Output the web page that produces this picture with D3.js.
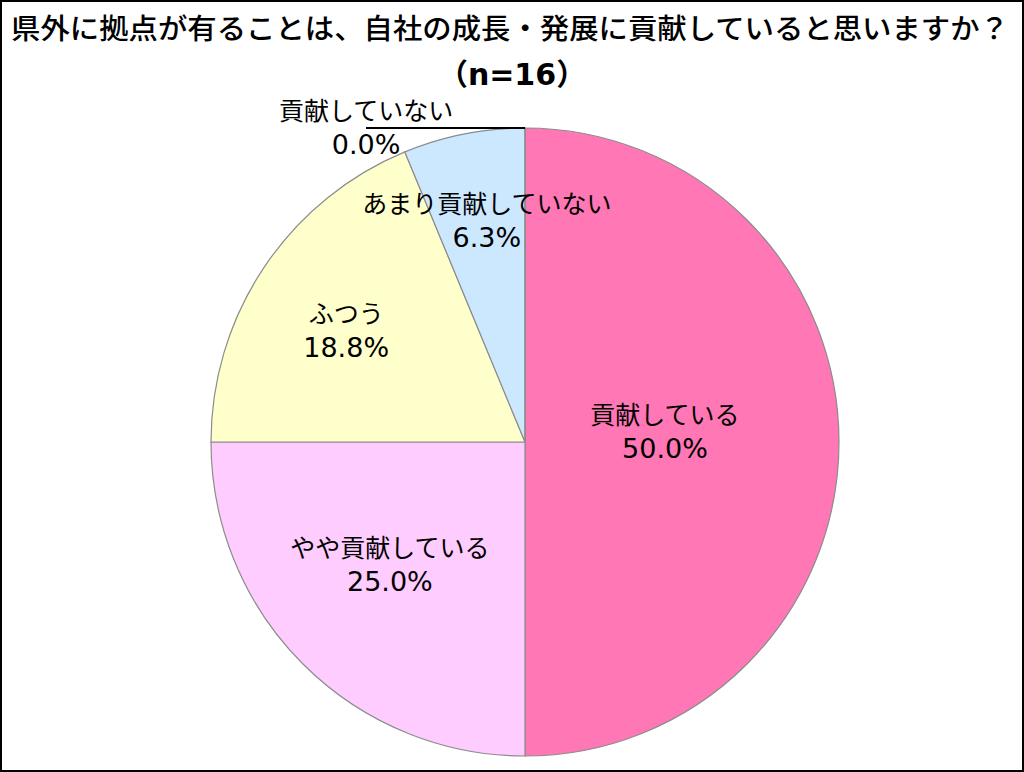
<!DOCTYPE html>
<html>
<head>
<meta charset="utf-8">
<script src="https://cdn.jsdelivr.net/npm/d3@7"></script>
<style>
  body { margin: 0; background: #fff; }
  text { font-family: "Noto Sans CJK JP", "Noto Sans", sans-serif; fill: #000; }
  .num { font-family: "DejaVu Sans", sans-serif; }
</style>
</head>
<body>
<div id="chart"></div>
<script>
const W = 1024, H = 772

const titleText = "県外に拠点が有ることは、自社の成長・発展に貢献していると思いますか？"
const sampleText = "n=16"
const categories = ["貢献している", "やや貢献している", "ふつう", "あまり貢献していない", "貢献していない"]
const counts = [8, 4, 3, 1, 0]
const colors = ["#FF77B4", "#FFCCFF", "#FFFFCC", "#CCE8FF", "#FFFFFF"]

// label placement (Excel-like): share of radius and angle nudge in degrees
const labelRadius = [0.447, 0.58, 0.672, 0.717, 0]
const labelNudge = [-4.5, 2.9, -1.7, 1.5, 0]

const svg = d3.select("#chart")
    .append("svg")
    .attr("width", W)
    .attr("height", H)

svg.append("rect")
    .attr("x", 1).attr("y", 1)
    .attr("width", W - 2).attr("height", H - 2)
    .attr("fill", "#fff")
    .attr("stroke", "#000")
    .attr("stroke-width", 2)

svg.append("text")
    .attr("x", 510).attr("y", 39)
    .attr("text-anchor", "middle")
    .attr("font-size", 28)
    .attr("font-weight", 500)
    .attr("textLength", 998)
    .attr("lengthAdjust", "spacingAndGlyphs")
    .text(titleText)

const sub = svg.append("text")
    .attr("x", 512).attr("y", 85)
    .attr("text-anchor", "middle")
    .attr("font-size", 30)
    .attr("font-weight", "bold")
sub.append("tspan").text("（")
sub.append("tspan").attr("class", "num").text(sampleText)
sub.append("tspan").text("）")

const cx = 525, cy = 442, R = 314
const total = d3.sum(counts)
const fmt = d3.format(".1%")

const pie = d3.pie().sort(null).value(d => d)
const arcs = pie(counts)
const arc = d3.arc().innerRadius(0).outerRadius(R)

const g = svg.append("g").attr("transform", `translate(${cx},${cy})`)

g.selectAll("path")
    .data(arcs)
    .join("path")
    .attr("d", arc)
    .attr("fill", (d, i) => colors[i])
    .attr("stroke", "#8c8c8c")
    .attr("stroke-width", 1.2)

arcs.forEach((d, i) => {
    const pct = fmt(d.value / total)
    let x, y
    if (d.value > 0) {
        const r = R * labelRadius[i]
        const a = (d.startAngle + d.endAngle) / 2 + labelNudge[i] * Math.PI / 180
        x = Math.sin(a) * r
        y = -Math.cos(a) * r
    } else {
        // zero slice: label outside with a leader line
        const a = d.startAngle
        const px = Math.sin(a) * R, py = -Math.cos(a) * R
        x = px - 159
        y = py - 1
        g.append("line")
            .attr("x1", px).attr("y1", py)
            .attr("x2", x).attr("y2", py)
            .attr("stroke", "#000")
            .attr("stroke-width", 2)
    }
    const t = g.append("text").attr("text-anchor", "middle")
    t.append("tspan")
        .attr("x", x).attr("y", y - 7.5)
        .attr("font-size", 25)
        .text(categories[i])
    t.append("tspan")
        .attr("class", "num")
        .attr("x", x).attr("y", y + 27)
        .attr("font-size", 27)
        .text(pct)
})
</script>
</body>
</html>
